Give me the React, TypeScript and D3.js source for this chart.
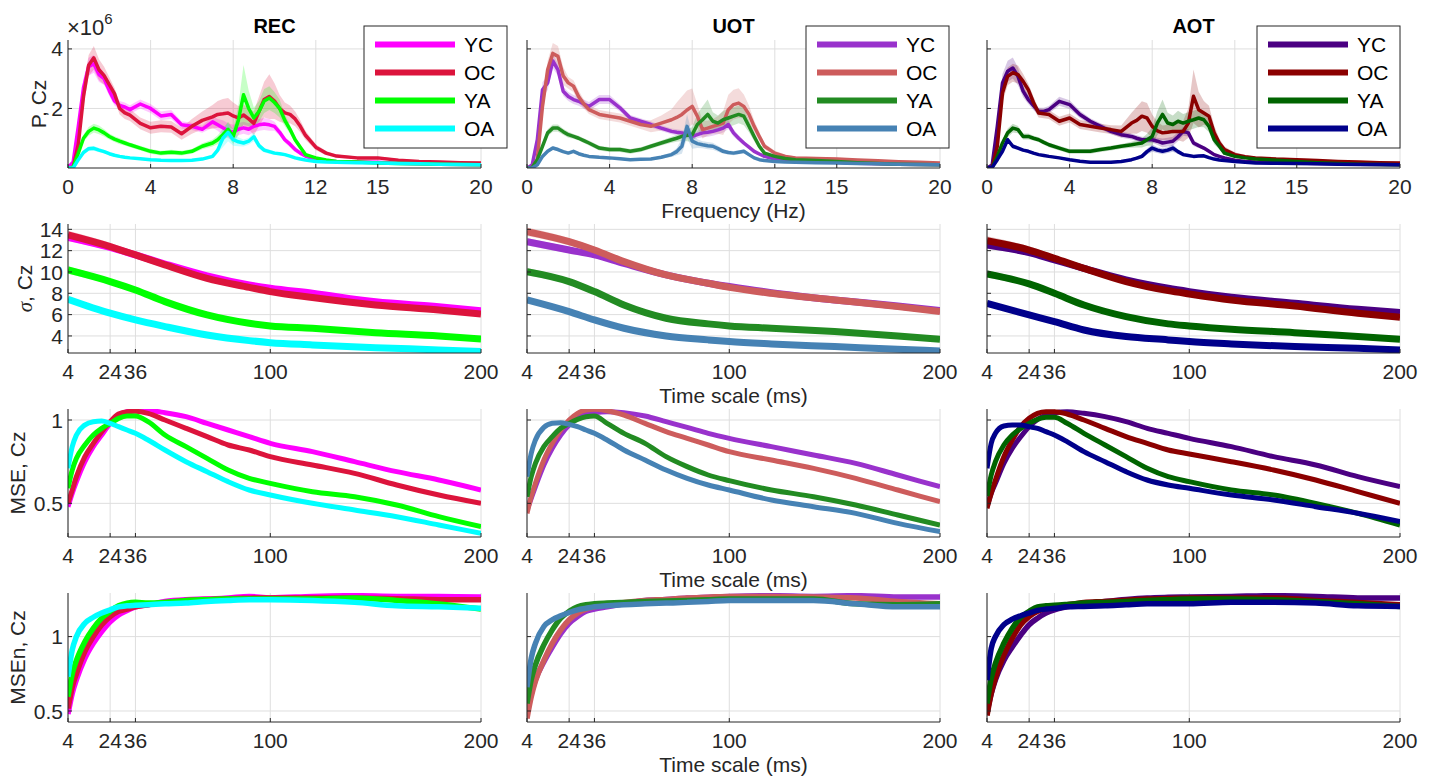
import React from "react";
import * as d3 from "d3";

// groups and conditions
const groups = ["YC", "OC", "YA", "OA"];
const conditions = ["REC", "UOT", "AOT"];
const palette: Record<string, string[]> = {
  REC: ["#ff00ff", "#dc143c", "#00ff00", "#00ffff"],
  UOT: ["#9932cc", "#cd5c5c", "#228b22", "#4682b4"],
  AOT: ["#4b0082", "#8b0000", "#006400", "#00008b"],
};

// x grids and ticks
const freqHz = [0, 0.25, 0.5, 0.75, 1, 1.25, 1.5, 1.75, 2, 2.25, 2.5, 2.75, 3, 3.5, 4, 4.5, 5, 5.5, 6, 6.5, 7, 7.25, 7.5, 7.75, 8, 8.25, 8.5, 8.75, 9, 9.25, 9.5, 9.75, 10, 10.25, 10.5, 10.75, 11, 11.25, 11.5, 12, 12.5, 13, 14, 15, 16, 17, 18, 19, 20];
const freqTicks = [0, 4, 8, 12, 15, 20];
const sigmaScale = [4, 24, 36, 50, 70, 90, 100, 120, 150, 180, 200];
const timeScale = [4, 6, 8, 12, 16, 20, 24, 28, 32, 36, 42, 50, 60, 70, 80, 90, 100, 120, 140, 160, 180, 200];
const timeTicks = [4, 24, 36, 100, 200];

// power spectra (x10^6), order YC, OC, YA, OA
const powerREC = [
  [0.02, 0.2, 1.4, 2.7, 3.4, 3.5, 3.14, 3.0, 2.6, 2.25, 2.1, 2.05, 1.96, 2.15, 2.0, 1.75, 1.8, 1.45, 1.4, 1.3, 1.55, 1.45, 1.35, 1.25, 1.2, 1.3, 1.35, 1.3, 1.4, 1.45, 1.48, 1.45, 1.4, 1.2, 0.95, 0.8, 0.62, 0.5, 0.4, 0.28, 0.24, 0.22, 0.2, 0.19, 0.16, 0.14, 0.13, 0.12, 0.11],
  [0, 0.02, 0.8, 2.4, 3.45, 3.7, 3.3, 3.1, 2.8, 2.5, 2.0, 1.85, 1.78, 1.5, 1.35, 1.4, 1.38, 1.15, 1.4, 1.6, 1.72, 1.8, 1.82, 1.85, 1.75, 1.68, 1.78, 1.65, 1.5, 1.9, 2.3, 2.4, 2.25, 2.0, 1.85, 1.8, 1.65, 1.4, 1.1, 0.7, 0.5, 0.4, 0.34, 0.34, 0.26, 0.22, 0.2, 0.18, 0.17],
  [0, 0.03, 0.5, 1.0, 1.23, 1.34, 1.28, 1.18, 1.06, 0.97, 0.9, 0.84, 0.78, 0.67, 0.56, 0.5, 0.53, 0.5, 0.56, 0.73, 0.84, 0.95, 1.12, 1.3, 1.06, 1.6, 2.46, 2.0, 1.68, 1.9, 2.25, 2.35, 2.2, 2.0, 1.6, 1.3, 0.95, 0.7, 0.45, 0.34, 0.27, 0.22, 0.2, 0.17, 0.15, 0.14, 0.13, 0.12, 0.11],
  [0, 0, 0.28, 0.52, 0.65, 0.66, 0.6, 0.55, 0.48, 0.43, 0.39, 0.36, 0.34, 0.31, 0.28, 0.26, 0.25, 0.25, 0.26, 0.3, 0.39, 0.6, 1.0, 1.2, 0.95, 0.88, 0.84, 0.9, 1.05, 0.75, 0.6, 0.55, 0.5, 0.48, 0.45, 0.4, 0.34, 0.3, 0.27, 0.22, 0.2, 0.19, 0.18, 0.17, 0.15, 0.14, 0.13, 0.12, 0.11],
];
const powerUOT = [
  [0, 0.1, 0.95, 2.63, 2.86, 3.6, 3.3, 2.58, 2.4, 2.3, 2.24, 2.15, 2.07, 2.3, 2.3, 2.02, 1.68, 1.57, 1.46, 1.34, 1.23, 1.2, 1.18, 1.12, 1.06, 1.12, 1.18, 1.2, 1.23, 1.28, 1.34, 1.46, 1.18, 1.0, 0.84, 0.7, 0.56, 0.47, 0.39, 0.3, 0.28, 0.26, 0.22, 0.19, 0.16, 0.14, 0.13, 0.12, 0.11],
  [0, 0.02, 0.3, 2.07, 3.3, 3.85, 3.75, 3.1, 2.86, 2.75, 2.4, 2.15, 1.96, 1.8, 1.74, 1.68, 1.57, 1.46, 1.4, 1.51, 1.62, 1.7, 1.8, 1.95, 2.07, 1.74, 1.29, 1.34, 1.4, 1.45, 1.51, 1.96, 2.13, 2.18, 2.07, 1.8, 1.4, 1.06, 0.73, 0.5, 0.39, 0.34, 0.32, 0.3, 0.27, 0.24, 0.21, 0.19, 0.17],
  [0, 0.02, 0.28, 0.73, 1.18, 1.34, 1.34, 1.22, 1.12, 1.06, 1.0, 0.92, 0.84, 0.67, 0.62, 0.62, 0.56, 0.62, 0.73, 0.84, 0.95, 1.0, 1.06, 1.1, 1.12, 1.46, 1.62, 1.8, 1.57, 1.51, 1.62, 1.68, 1.74, 1.8, 1.74, 1.4, 1.06, 0.73, 0.5, 0.39, 0.32, 0.28, 0.25, 0.22, 0.18, 0.15, 0.13, 0.12, 0.11],
  [0, 0, 0.11, 0.39, 0.56, 0.67, 0.62, 0.55, 0.5, 0.56, 0.48, 0.43, 0.39, 0.36, 0.34, 0.31, 0.28, 0.29, 0.3, 0.36, 0.45, 0.55, 0.73, 1.4, 0.9, 0.82, 0.78, 0.75, 0.73, 0.65, 0.56, 0.52, 0.5, 0.53, 0.56, 0.45, 0.34, 0.28, 0.25, 0.22, 0.2, 0.19, 0.18, 0.17, 0.15, 0.14, 0.13, 0.12, 0.11],
];
const powerAOT = [
  [0, 0.1, 1.4, 2.86, 3.25, 3.36, 3.08, 2.58, 2.3, 2.1, 1.9, 1.9, 1.96, 2.24, 2.13, 1.8, 1.57, 1.4, 1.23, 1.12, 1.06, 1.0, 0.95, 0.95, 0.95, 0.9, 0.84, 0.87, 0.9, 1.05, 1.23, 1.18, 0.84, 0.75, 0.67, 0.56, 0.45, 0.39, 0.34, 0.26, 0.22, 0.2, 0.18, 0.17, 0.15, 0.14, 0.13, 0.12, 0.11],
  [0, 0.02, 0.73, 2.52, 3.08, 3.2, 3.14, 2.91, 2.63, 2.2, 1.85, 1.82, 1.8, 1.57, 1.68, 1.46, 1.4, 1.34, 1.29, 1.23, 1.51, 1.6, 1.74, 1.68, 1.4, 1.25, 1.18, 1.2, 1.23, 1.23, 1.23, 1.51, 2.41, 1.96, 1.85, 1.74, 1.18, 0.84, 0.62, 0.45, 0.38, 0.34, 0.3, 0.28, 0.25, 0.22, 0.2, 0.18, 0.17],
  [0, 0.02, 0.39, 0.84, 1.18, 1.34, 1.29, 1.06, 1.06, 1.0, 0.95, 0.86, 0.78, 0.67, 0.56, 0.56, 0.56, 0.62, 0.67, 0.73, 0.78, 0.81, 0.84, 0.95, 1.06, 1.51, 1.8, 1.51, 1.46, 1.57, 1.51, 1.57, 1.62, 1.68, 1.62, 1.4, 0.95, 0.73, 0.5, 0.39, 0.34, 0.3, 0.26, 0.22, 0.18, 0.15, 0.13, 0.12, 0.11],
  [0, 0.02, 0.28, 0.56, 0.95, 0.73, 0.67, 0.6, 0.56, 0.5, 0.45, 0.42, 0.39, 0.34, 0.28, 0.23, 0.19, 0.19, 0.19, 0.22, 0.28, 0.33, 0.39, 0.55, 0.67, 0.6, 0.56, 0.6, 0.67, 0.55, 0.45, 0.42, 0.39, 0.4, 0.41, 0.35, 0.3, 0.27, 0.25, 0.22, 0.19, 0.17, 0.16, 0.15, 0.14, 0.13, 0.12, 0.12, 0.11],
];

// shaded error of the spectra (x10^6)
const powerSemREC = [
  [0, 0.05, 0.2, 0.3, 0.3, 0.3, 0.25, 0.2, 0.18, 0.15, 0.15, 0.15, 0.15, 0.15, 0.15, 0.15, 0.15, 0.12, 0.12, 0.12, 0.2, 0.2, 0.25, 0.25, 0.25, 0.2, 0.2, 0.2, 0.2, 0.2, 0.2, 0.2, 0.15, 0.12, 0.1, 0.1, 0.08, 0.06, 0.05, 0.04, 0.04, 0.03, 0.03, 0.03, 0.03, 0.03, 0.03, 0.03, 0.03],
  [0, 0.05, 0.2, 0.35, 0.35, 0.4, 0.35, 0.3, 0.25, 0.2, 0.2, 0.2, 0.2, 0.2, 0.2, 0.2, 0.2, 0.2, 0.25, 0.3, 0.4, 0.45, 0.5, 0.5, 0.45, 0.4, 0.35, 0.35, 0.4, 0.5, 0.6, 0.75, 0.6, 0.45, 0.35, 0.3, 0.25, 0.2, 0.15, 0.1, 0.07, 0.05, 0.05, 0.05, 0.04, 0.04, 0.04, 0.04, 0.04],
  [0, 0.02, 0.08, 0.12, 0.15, 0.15, 0.15, 0.12, 0.1, 0.1, 0.1, 0.08, 0.08, 0.08, 0.08, 0.08, 0.08, 0.08, 0.08, 0.1, 0.12, 0.15, 0.2, 0.25, 0.25, 0.5, 1.0, 0.6, 0.35, 0.35, 0.4, 0.4, 0.35, 0.3, 0.2, 0.15, 0.1, 0.08, 0.06, 0.04, 0.03, 0.03, 0.03, 0.03, 0.03, 0.03, 0.03, 0.03, 0.03],
  [0, 0.01, 0.05, 0.06, 0.08, 0.08, 0.07, 0.06, 0.05, 0.05, 0.05, 0.04, 0.04, 0.04, 0.04, 0.04, 0.04, 0.04, 0.04, 0.05, 0.06, 0.1, 0.3, 0.3, 0.2, 0.15, 0.12, 0.12, 0.15, 0.1, 0.08, 0.07, 0.06, 0.05, 0.05, 0.04, 0.04, 0.03, 0.03, 0.03, 0.02, 0.02, 0.02, 0.02, 0.02, 0.02, 0.02, 0.02, 0.02],
];
const powerSemUOT = [
  [0, 0.05, 0.15, 0.25, 0.25, 0.25, 0.2, 0.15, 0.15, 0.15, 0.15, 0.15, 0.15, 0.15, 0.15, 0.12, 0.1, 0.1, 0.1, 0.1, 0.1, 0.1, 0.1, 0.1, 0.1, 0.12, 0.15, 0.15, 0.15, 0.15, 0.15, 0.15, 0.12, 0.1, 0.08, 0.06, 0.05, 0.04, 0.04, 0.03, 0.03, 0.03, 0.03, 0.03, 0.03, 0.03, 0.03, 0.03, 0.03],
  [0, 0.05, 0.15, 0.3, 0.3, 0.35, 0.35, 0.3, 0.2, 0.2, 0.2, 0.15, 0.15, 0.15, 0.15, 0.15, 0.15, 0.15, 0.2, 0.25, 0.35, 0.5, 0.6, 0.65, 0.6, 0.4, 0.3, 0.25, 0.25, 0.3, 0.4, 0.5, 0.5, 0.5, 0.4, 0.3, 0.2, 0.15, 0.1, 0.08, 0.06, 0.05, 0.05, 0.05, 0.04, 0.04, 0.04, 0.04, 0.04],
  [0, 0.02, 0.05, 0.1, 0.12, 0.12, 0.12, 0.1, 0.1, 0.08, 0.08, 0.08, 0.08, 0.08, 0.08, 0.08, 0.08, 0.08, 0.08, 0.08, 0.1, 0.12, 0.15, 0.2, 0.25, 0.35, 0.45, 0.5, 0.3, 0.25, 0.3, 0.3, 0.3, 0.3, 0.3, 0.2, 0.15, 0.1, 0.06, 0.04, 0.03, 0.03, 0.03, 0.03, 0.03, 0.03, 0.03, 0.03, 0.03],
  [0, 0.01, 0.03, 0.05, 0.06, 0.06, 0.06, 0.05, 0.05, 0.05, 0.05, 0.04, 0.04, 0.04, 0.04, 0.04, 0.04, 0.04, 0.04, 0.05, 0.08, 0.12, 0.25, 0.4, 0.25, 0.15, 0.12, 0.12, 0.12, 0.1, 0.08, 0.07, 0.07, 0.07, 0.07, 0.05, 0.04, 0.03, 0.03, 0.02, 0.02, 0.02, 0.02, 0.02, 0.02, 0.02, 0.02, 0.02, 0.02],
];
const powerSemAOT = [
  [0, 0.05, 0.2, 0.3, 0.35, 0.35, 0.3, 0.2, 0.15, 0.15, 0.12, 0.12, 0.12, 0.15, 0.15, 0.12, 0.1, 0.1, 0.1, 0.1, 0.1, 0.1, 0.1, 0.1, 0.1, 0.12, 0.15, 0.15, 0.15, 0.15, 0.15, 0.12, 0.1, 0.08, 0.06, 0.05, 0.05, 0.04, 0.04, 0.03, 0.03, 0.03, 0.03, 0.03, 0.03, 0.03, 0.03, 0.03, 0.03],
  [0, 0.05, 0.15, 0.3, 0.3, 0.3, 0.3, 0.25, 0.2, 0.2, 0.15, 0.15, 0.15, 0.15, 0.15, 0.15, 0.15, 0.15, 0.15, 0.2, 0.35, 0.45, 0.5, 0.5, 0.4, 0.3, 0.25, 0.25, 0.3, 0.3, 0.35, 0.5, 0.9, 0.6, 0.4, 0.35, 0.25, 0.15, 0.1, 0.08, 0.06, 0.05, 0.05, 0.05, 0.04, 0.04, 0.04, 0.04, 0.04],
  [0, 0.02, 0.05, 0.1, 0.15, 0.15, 0.12, 0.1, 0.1, 0.08, 0.08, 0.08, 0.08, 0.08, 0.08, 0.08, 0.08, 0.08, 0.08, 0.08, 0.1, 0.12, 0.15, 0.2, 0.3, 0.4, 0.5, 0.35, 0.3, 0.35, 0.3, 0.3, 0.3, 0.3, 0.25, 0.2, 0.15, 0.1, 0.06, 0.04, 0.03, 0.03, 0.03, 0.03, 0.03, 0.03, 0.03, 0.03, 0.03],
  [0, 0.01, 0.03, 0.06, 0.1, 0.08, 0.06, 0.05, 0.05, 0.05, 0.04, 0.04, 0.04, 0.04, 0.04, 0.04, 0.04, 0.04, 0.04, 0.04, 0.05, 0.06, 0.08, 0.1, 0.12, 0.1, 0.1, 0.1, 0.12, 0.08, 0.06, 0.05, 0.05, 0.05, 0.05, 0.04, 0.04, 0.03, 0.03, 0.02, 0.02, 0.02, 0.02, 0.02, 0.02, 0.02, 0.02, 0.02, 0.02],
];

// sigma per time scale
const sigmaREC = [
  [13.25, 12.3, 11.6, 10.75, 9.63, 8.78, 8.47, 8.0, 7.2, 6.75, 6.37],
  [13.47, 12.38, 11.6, 10.66, 9.4, 8.56, 8.16, 7.6, 6.9, 6.44, 6.06],
  [10.19, 9.1, 8.31, 7.22, 5.97, 5.19, 4.94, 4.72, 4.31, 4.0, 3.72],
  [7.44, 6.13, 5.5, 4.88, 4.09, 3.56, 3.37, 3.16, 2.9, 2.69, 2.53],
];
const sigmaUOT = [
  [12.84, 12.06, 11.6, 10.8, 9.72, 8.94, 8.63, 8.06, 7.38, 6.81, 6.38],
  [13.78, 12.84, 12.06, 10.97, 9.72, 8.94, 8.56, 8.0, 7.38, 6.75, 6.28],
  [10.03, 9.1, 8.16, 6.9, 5.66, 5.13, 4.94, 4.72, 4.41, 4.0, 3.69],
  [7.38, 6.28, 5.5, 4.72, 4.0, 3.63, 3.47, 3.25, 3.0, 2.75, 2.59],
];
const sigmaAOT = [
  [12.53, 11.81, 11.13, 10.34, 9.25, 8.47, 8.16, 7.63, 7.06, 6.5, 6.19],
  [12.94, 12.06, 11.28, 10.34, 9.1, 8.25, 7.94, 7.38, 6.81, 6.13, 5.75],
  [9.81, 8.88, 8.0, 6.9, 5.81, 5.13, 4.94, 4.63, 4.31, 3.94, 3.69],
  [7.06, 5.97, 5.34, 4.56, 3.94, 3.63, 3.47, 3.25, 3.0, 2.84, 2.69],
];
const sigmaSem = [
  [0.35, 0.3, 0.25, 0.2, 0.15, 0.12, 0.1, 0.1, 0.08, 0.08, 0.08],
  [0.4, 0.35, 0.3, 0.22, 0.15, 0.12, 0.1, 0.1, 0.08, 0.08, 0.08],
  [0.35, 0.25, 0.2, 0.15, 0.1, 0.08, 0.08, 0.07, 0.07, 0.07, 0.07],
  [0.25, 0.2, 0.15, 0.12, 0.08, 0.07, 0.06, 0.06, 0.06, 0.06, 0.06],
];

// multiscale entropy
const mseREC = [
  [0.48, 0.56, 0.63, 0.75, 0.84, 0.91, 0.98, 1.03, 1.05, 1.056, 1.056, 1.044, 1.02, 0.98, 0.94, 0.9, 0.86, 0.81, 0.75, 0.69, 0.64, 0.58],
  [0.5, 0.58, 0.66, 0.78, 0.86, 0.93, 0.99, 1.036, 1.05, 1.052, 1.04, 1.0, 0.95, 0.9, 0.85, 0.82, 0.78, 0.73, 0.68, 0.61, 0.55, 0.5],
  [0.59, 0.7, 0.77, 0.85, 0.91, 0.95, 0.98, 1.01, 1.024, 1.024, 0.99, 0.91, 0.84, 0.77, 0.7, 0.65, 0.62, 0.57, 0.54, 0.49, 0.42, 0.36],
  [0.71, 0.84, 0.91, 0.97, 0.99, 0.994, 0.98, 0.96, 0.94, 0.92, 0.88, 0.82, 0.75, 0.69, 0.63, 0.58, 0.55, 0.5, 0.46, 0.42, 0.37, 0.32],
];
const mseUOT = [
  [0.46, 0.53, 0.6, 0.73, 0.83, 0.91, 0.97, 1.01, 1.036, 1.044, 1.05, 1.044, 1.024, 0.99, 0.956, 0.92, 0.89, 0.84, 0.79, 0.74, 0.67, 0.6],
  [0.44, 0.54, 0.62, 0.76, 0.86, 0.94, 1.0, 1.04, 1.06, 1.064, 1.056, 1.03, 0.98, 0.93, 0.89, 0.85, 0.81, 0.76, 0.71, 0.65, 0.58, 0.51],
  [0.54, 0.66, 0.74, 0.84, 0.9, 0.95, 0.98, 1.004, 1.02, 1.024, 0.98, 0.92, 0.86, 0.78, 0.72, 0.67, 0.636, 0.58, 0.54, 0.49, 0.43, 0.37],
  [0.66, 0.8, 0.88, 0.956, 0.98, 0.984, 0.974, 0.96, 0.94, 0.92, 0.88, 0.82, 0.76, 0.7, 0.65, 0.61, 0.58, 0.52, 0.48, 0.44, 0.38, 0.33],
];
const mseAOT = [
  [0.48, 0.56, 0.62, 0.74, 0.83, 0.9, 0.96, 1.004, 1.03, 1.044, 1.05, 1.04, 1.02, 0.99, 0.95, 0.92, 0.89, 0.84, 0.78, 0.73, 0.66, 0.6],
  [0.47, 0.56, 0.64, 0.78, 0.88, 0.96, 1.01, 1.04, 1.05, 1.05, 1.036, 1.0, 0.95, 0.9, 0.86, 0.82, 0.796, 0.75, 0.7, 0.64, 0.57, 0.5],
  [0.544, 0.67, 0.75, 0.85, 0.91, 0.95, 0.98, 1.004, 1.016, 1.016, 0.98, 0.92, 0.85, 0.78, 0.71, 0.66, 0.63, 0.58, 0.55, 0.5, 0.44, 0.37],
  [0.71, 0.86, 0.92, 0.964, 0.97, 0.97, 0.96, 0.95, 0.93, 0.91, 0.87, 0.81, 0.75, 0.69, 0.64, 0.61, 0.59, 0.55, 0.52, 0.48, 0.44, 0.39],
];

// normalised multiscale entropy
const msenREC = [
  [0.48, 0.617, 0.71, 0.854, 0.955, 1.034, 1.1, 1.146, 1.176, 1.2, 1.214, 1.236, 1.248, 1.252, 1.26, 1.27, 1.26, 1.27, 1.275, 1.27, 1.27, 1.266],
  [0.516, 0.66, 0.75, 0.9, 1.0, 1.08, 1.135, 1.17, 1.185, 1.2, 1.214, 1.23, 1.243, 1.25, 1.255, 1.258, 1.26, 1.26, 1.26, 1.255, 1.248, 1.248],
  [0.595, 0.75, 0.84, 0.966, 1.056, 1.124, 1.17, 1.207, 1.225, 1.23, 1.225, 1.23, 1.243, 1.248, 1.252, 1.252, 1.252, 1.252, 1.26, 1.243, 1.22, 1.185],
  [0.73, 0.91, 1.0, 1.09, 1.13, 1.158, 1.18, 1.2, 1.207, 1.21, 1.214, 1.22, 1.225, 1.236, 1.243, 1.248, 1.248, 1.243, 1.23, 1.207, 1.2, 1.19],
];
const msenUOT = [
  [0.48, 0.617, 0.71, 0.83, 0.93, 1.02, 1.09, 1.135, 1.17, 1.185, 1.2, 1.22, 1.243, 1.25, 1.26, 1.265, 1.27, 1.275, 1.27, 1.275, 1.266, 1.266],
  [0.45, 0.595, 0.7, 0.84, 0.955, 1.045, 1.113, 1.158, 1.185, 1.2, 1.214, 1.23, 1.243, 1.25, 1.26, 1.265, 1.27, 1.27, 1.266, 1.26, 1.236, 1.22],
  [0.55, 0.71, 0.81, 0.944, 1.045, 1.124, 1.17, 1.2, 1.214, 1.22, 1.225, 1.23, 1.236, 1.24, 1.243, 1.248, 1.252, 1.252, 1.252, 1.22, 1.214, 1.22],
  [0.66, 0.854, 0.955, 1.068, 1.113, 1.14, 1.162, 1.18, 1.19, 1.2, 1.207, 1.214, 1.22, 1.225, 1.23, 1.236, 1.243, 1.243, 1.243, 1.22, 1.2, 1.2],
];
const msenAOT = [
  [0.49, 0.617, 0.71, 0.84, 0.93, 1.01, 1.08, 1.124, 1.158, 1.18, 1.2, 1.22, 1.236, 1.25, 1.26, 1.264, 1.266, 1.27, 1.275, 1.27, 1.26, 1.26],
  [0.47, 0.617, 0.72, 0.876, 0.99, 1.08, 1.135, 1.17, 1.19, 1.2, 1.214, 1.23, 1.236, 1.245, 1.252, 1.256, 1.26, 1.26, 1.26, 1.243, 1.23, 1.214],
  [0.55, 0.72, 0.82, 0.955, 1.056, 1.13, 1.17, 1.2, 1.207, 1.21, 1.216, 1.225, 1.23, 1.236, 1.243, 1.248, 1.252, 1.252, 1.248, 1.236, 1.22, 1.203],
  [0.707, 0.92, 1.0, 1.08, 1.117, 1.14, 1.158, 1.176, 1.185, 1.19, 1.2, 1.203, 1.207, 1.214, 1.22, 1.22, 1.22, 1.23, 1.23, 1.225, 1.207, 1.203],
];

const FONT = "'Liberation Sans', Arial, Helvetica, sans-serif";
const AXIS = "#262626";
const GRID = "#dedede";
const TICK_FS = 21;

const colX = [68, 527, 987];
const axW = 413;
const legendX = [364, 806, 1257];

type Row = {
  top: number;
  h: number;
  x: number[];
  xDomain: [number, number];
  xTicks: number[];
  yDomain: [number, number];
  yTicks: number[];
  data: Record<string, number[][]>;
  sem?: Record<string, number[][]>;
  lw: number;
  curve: d3.CurveFactory;
  ylabel: React.ReactNode;
  ylabelX: number;
  xlabel: string;
};

const rows: Row[] = [
  {
    top: 40, h: 128, x: freqHz, xDomain: [0, 20], xTicks: freqTicks,
    yDomain: [0, 4.3], yTicks: [2, 4],
    data: { REC: powerREC, UOT: powerUOT, AOT: powerAOT },
    sem: { REC: powerSemREC, UOT: powerSemUOT, AOT: powerSemAOT },
    lw: 3.5, curve: d3.curveLinear, ylabel: "P, Cz", ylabelX: 39, xlabel: "Frequency (Hz)",
  },
  {
    top: 224, h: 129, x: sigmaScale, xDomain: [4, 200], xTicks: timeTicks,
    yDomain: [2.4, 14.5], yTicks: [4, 6, 8, 10, 12, 14],
    data: { REC: sigmaREC, UOT: sigmaUOT, AOT: sigmaAOT },
    sem: { REC: sigmaSem, UOT: sigmaSem, AOT: sigmaSem },
    lw: 7, curve: d3.curveMonotoneX,
    ylabel: (
      <>
        <tspan fontStyle="italic" fontFamily="'Liberation Serif', serif">σ</tspan>, Cz
      </>
    ),
    ylabelX: 25, xlabel: "Time scale (ms)",
  },
  {
    top: 409, h: 128, x: timeScale, xDomain: [4, 200], xTicks: timeTicks,
    yDomain: [0.298, 1.066], yTicks: [0.5, 1],
    data: { REC: mseREC, UOT: mseUOT, AOT: mseAOT },
    lw: 5, curve: d3.curveMonotoneX, ylabel: "MSE, Cz", ylabelX: 18, xlabel: "Time scale (ms)",
  },
  {
    top: 593, h: 129, x: timeScale, xDomain: [4, 200], xTicks: timeTicks,
    yDomain: [0.426, 1.293], yTicks: [0.5, 1],
    data: { REC: msenREC, UOT: msenUOT, AOT: msenAOT },
    lw: 5.5, curve: d3.curveMonotoneX, ylabel: "MSEn, Cz", ylabelX: 18, xlabel: "Time scale (ms)",
  },
];

const Panel = ({ row, ri, ci }: { row: Row; ri: number; ci: number }) => {
  const cond = conditions[ci];
  const left = colX[ci];
  const x = d3.scaleLinear().domain(row.xDomain).range([left, left + axW]);
  const y = d3.scaleLinear().domain(row.yDomain).range([row.top + row.h, row.top]);
  const bottom = row.top + row.h;
  const colors = palette[cond];
  const series = row.data[cond];
  const clipId = `clip-${ri}-${ci}`;

  const line = d3
    .line<number>()
    .x((_, i) => x(row.x[i]))
    .y((d) => y(d))
    .curve(row.curve);

  return (
    <g>
      <defs>
        <clipPath id={clipId}>
          <rect x={left} y={row.top} width={axW} height={row.h} />
        </clipPath>
      </defs>
      {/* grid */}
      {row.xTicks.map((t) => (
        <line key={"gx" + t} x1={x(t)} x2={x(t)} y1={row.top} y2={bottom} stroke={GRID} strokeWidth={1} />
      ))}
      {row.yTicks.map((t) => (
        <line key={"gy" + t} x1={left} x2={left + axW} y1={y(t)} y2={y(t)} stroke={GRID} strokeWidth={1} />
      ))}
      <g clipPath={`url(#${clipId})`}>
        {row.sem &&
          series.map((vals, gi) => {
            const sem = row.sem![cond][gi];
            const area = d3
              .area<number>()
              .x((_, i) => x(row.x[i]))
              .y0((d, i) => y(d - sem[i]))
              .y1((d, i) => y(d + sem[i]))
              .curve(row.curve);
            return <path key={"a" + gi} d={area(vals) || ""} fill={colors[gi]} opacity={0.22} />;
          })}
        {series.map((vals, gi) => (
          <path
            key={"l" + gi}
            d={line(vals) || ""}
            fill="none"
            stroke={colors[gi]}
            strokeWidth={row.lw}
            strokeLinejoin="round"
          />
        ))}
      </g>
      {/* axes */}
      <line x1={left} x2={left + axW} y1={bottom} y2={bottom} stroke={AXIS} strokeWidth={1} />
      <line x1={left} x2={left} y1={row.top} y2={bottom} stroke={AXIS} strokeWidth={1} />
      {row.xTicks.map((t) => (
        <g key={"tx" + t}>
          <line x1={x(t)} x2={x(t)} y1={bottom} y2={bottom - 4} stroke={AXIS} />
          <text x={x(t)} y={bottom + 26} textAnchor="middle" fontSize={TICK_FS} fill={AXIS}>
            {t}
          </text>
        </g>
      ))}
      {row.yTicks.map((t) => (
        <g key={"ty" + t}>
          <line x1={left} x2={left + 4} y1={y(t)} y2={y(t)} stroke={AXIS} />
          {ci === 0 && (
            <text x={left - 5} y={y(t)} dy="0.36em" textAnchor="end" fontSize={TICK_FS} fill={AXIS}>
              {t}
            </text>
          )}
        </g>
      ))}
      {ci === 0 && (
        <text
          transform={`translate(${row.ylabelX},${row.top + row.h / 2}) rotate(-90)`}
          textAnchor="middle"
          dy="0.35em"
          fontSize={21}
          fill={AXIS}
        >
          {row.ylabel}
        </text>
      )}
      {ci === 1 && (
        <text x={left + axW / 2} y={bottom + 50} textAnchor="middle" fontSize={21} fill={AXIS}>
          {row.xlabel}
        </text>
      )}
    </g>
  );
};

const Legend = ({ ci }: { ci: number }) => {
  const cond = conditions[ci];
  const lx = legendX[ci];
  const top = 26;
  const ly = d3.scalePoint<string>().domain(groups).range([top + 18.5, top + 102.5]);
  return (
    <g>
      <rect x={lx} y={top} width={143} height={122} fill="#fff" stroke={AXIS} strokeWidth={1} />
      {groups.map((g, gi) => (
        <g key={g}>
          <line x1={lx + 11} x2={lx + 91} y1={ly(g)} y2={ly(g)} stroke={palette[cond][gi]} strokeWidth={6} />
          <text x={lx + 100} y={ly(g)} dy="0.36em" fontSize={21} fill="#000">
            {g}
          </text>
        </g>
      ))}
    </g>
  );
};

export default function App() {
  return (
    <svg
      width={1432}
      height={776}
      style={{ position: "absolute", left: 0, top: 0, display: "block", background: "#fff" }}
      fontFamily={FONT}
    >
      <rect width={1432} height={776} fill="#fff" />
      {rows.map((row, ri) =>
        conditions.map((c, ci) => <Panel key={ri + c} row={row} ri={ri} ci={ci} />)
      )}
      {conditions.map((c, ci) => (
        <text key={c} x={colX[ci] + axW / 2} y={33} textAnchor="middle" fontSize={20} fontWeight="bold" fill="#000">
          {c}
        </text>
      ))}
      <text x={67} y={35} fontSize={22} fill={AXIS}>
        ×10
        <tspan fontSize={15} dy={-11}>6</tspan>
      </text>
      {conditions.map((c, ci) => (
        <Legend key={"lg" + c} ci={ci} />
      ))}
    </svg>
  );
}
